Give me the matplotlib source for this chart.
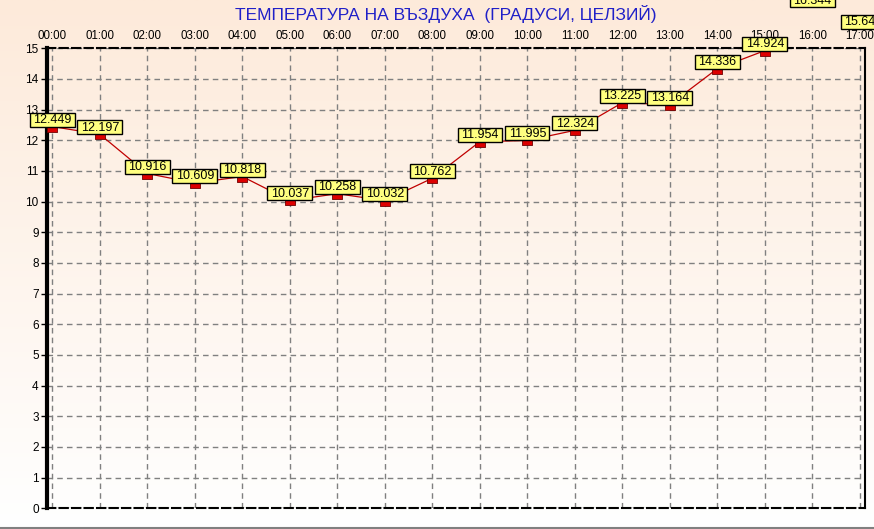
import numpy as np
import matplotlib
matplotlib.use("Agg")
import matplotlib.pyplot as plt
from matplotlib.path import Path
from matplotlib.patches import Rectangle
from matplotlib.transforms import IdentityTransform

hours = ["00:00", "01:00", "02:00", "03:00", "04:00", "05:00", "06:00", "07:00", "08:00",
         "09:00", "10:00", "11:00", "12:00", "13:00", "14:00", "15:00", "16:00", "17:00"]
temps = [12.449, 12.197, 10.916, 10.609, 10.818, 10.037, 10.258, 10.032, 10.762,
         11.954, 11.995, 12.324, 13.225, 13.164, 14.336, 14.924, 16.344, 15.64]
labels = ["12.449", "12.197", "10.916", "10.609", "10.818", "10.037", "10.258", "10.032", "10.762",
          "11.954", "11.995", "12.324", "13.225", "13.164", "14.336", "14.924", "16.344", "15.64"]
yticks = list(range(0, 16))
title = "ТЕМПЕРАТУРА НА ВЪЗДУХА  (ГРАДУСИ, ЦЕЛЗИЙ)"

plt.rcParams['font.family'] = ['Liberation Sans', 'DejaVu Sans']

W, H = 874, 529
fig = plt.figure(figsize=(W / 100, H / 100), dpi=100)

# background gradient
bg = fig.add_axes([0, 0, 1, 1], zorder=-10)
top = np.array([253, 234, 218]) / 255.0
bot = np.array([255, 255, 255]) / 255.0
t = np.linspace(0, 1, 256)[:, None]
grad = top[None, :] * (1 - t) + bot[None, :] * t
img = np.repeat(grad[:, None, :], 2, axis=1)
bg.imshow(img, aspect='auto', extent=[0, 1, 0, 1], origin='upper')
bg.set_xlim(0, 1)
bg.set_ylim(0, 1)
bg.axis('off')
bg.plot([0, 1], [1.5 / H, 1.5 / H], color='#808080', lw=1.5)

left, right, topp, bottom = 47, 865, 48.3, 508.3
ax = fig.add_axes([left / W, (H - bottom) / H, (right - left) / W, (bottom - topp) / H])
ax.set_facecolor('none')

x = np.arange(len(hours))
unit = 47.5
ax.set_xlim((left - 52.3) / unit, (right - 52.3) / unit)
ax.set_ylim(0, 15)

ax.set_xticks(x)
ax.set_xticklabels(hours)
ax.set_yticks(yticks)
ax.set_yticklabels([str(v) for v in yticks])
ax.xaxis.tick_top()
ax.tick_params(axis='x', length=0, pad=4.5, labelsize=8.3)
ax.tick_params(axis='y', length=4, width=1, pad=2, labelsize=8.5, direction='out')

ax.grid(True, color='#808080', linestyle=(0, (4, 3)), linewidth=1)
ax.set_axisbelow(True)

for s in ['top', 'bottom']:
    ax.spines[s].set_linestyle((0, (4, 2)))
    ax.spines[s].set_linewidth(1.5)
    ax.spines[s].set_color('black')
ax.spines['left'].set_linewidth(3)
ax.spines['right'].set_linewidth(1.5)

marker = Path([(-1, 0), (1, 0), (1, -1), (-1, -1), (-1, 0)],
              [Path.MOVETO, Path.LINETO, Path.LINETO, Path.LINETO, Path.CLOSEPOLY])
ax.plot(x, temps, color='#c00000', lw=0.9, zorder=3)
ax.plot(x, temps, linestyle='none', marker=marker, markersize=7.5,
        markerfacecolor='#dd0000', markeredgecolor='#700000', markeredgewidth=0.6, zorder=4)

texts = []
for xi, yi, lab in zip(x, temps, labels):
    tx = ax.annotate(lab, (xi, yi), xytext=(0, 3.5), textcoords='offset pixels',
                     ha='center', va='baseline', fontsize=9, annotation_clip=False, zorder=7)
    texts.append((tx, xi, yi))

fig.text(446 / W, 1 - 14 / H, title, ha='center', va='center', color='#2020c8', fontsize=12.5)

renderer = fig.canvas.get_renderer()
for tx, xi, yi in texts:
    bb = tx.get_window_extent(renderer)
    px, py = ax.transData.transform((xi, yi))
    rect = Rectangle((bb.x0 - 3.5, py), bb.width + 7, 14, transform=IdentityTransform(),
                     facecolor='#ffff80', edgecolor='black', linewidth=1, zorder=6,
                     clip_on=False)
    ax.add_artist(rect)

fig.savefig('out.png', dpi=100)
